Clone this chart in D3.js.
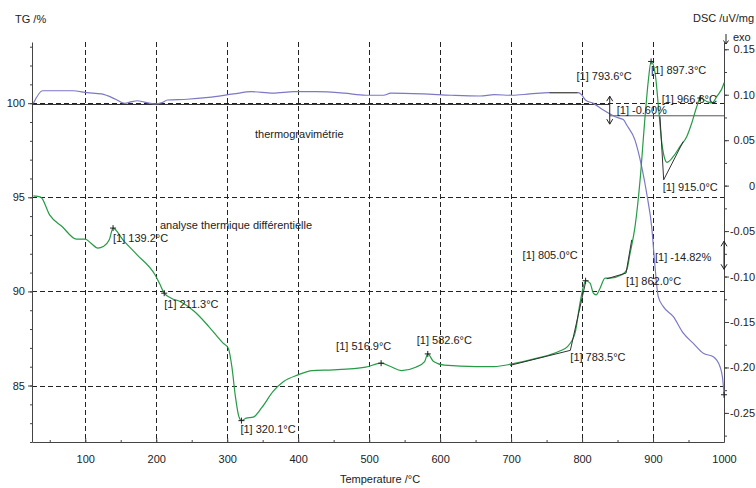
<!DOCTYPE html>
<html>
<head>
<meta charset="utf-8">
<script src="https://cdn.jsdelivr.net/npm/d3@7"></script>
<style>
  body { margin: 0; background: #fff; }
  svg { display: block; }
  text { font-family: "Liberation Sans", Arial, sans-serif; font-size: 11px; fill: #222; }
</style>
</head>
<body>
<svg id="chart" width="756" height="488"></svg>
<script>
// Thermogravimetry (TG, % mass) sampled along temperature (°C)
const tgTemp = [27, 39.8, 82.6, 102.6, 122.8, 142.9, 155.5, 165.6, 173.1, 183.2, 198.3, 208.3, 215.9,
  243.5, 273.8, 309, 334.1, 364.4, 394.6, 424.7, 465, 495.2, 520.4, 530.4, 575.8, 615.9, 656.2, 676.4,
  701.4, 726.7, 754.3, 794.6, 799.5, 804.7, 815.9, 830, 839.4, 848.8, 858.1, 862.9, 874.6, 884, 891.9,
  898.1, 902.8, 907.4, 914.5, 928.6, 942.7, 956.8, 970.9, 985, 994.4, 998, 1000];
const tgMass = [99.99, 100.66, 100.66, 100.56, 100.49, 100.21, 99.99, 100.08, 100.13, 100.06, 99.96, 100.03, 100.17,
  100.21, 100.31, 100.49, 100.61, 100.53, 100.61, 100.61, 100.53, 100.42, 100.42, 100.53, 100.49, 100.42, 100.38, 100.45,
  100.42, 100.49, 100.56, 100.56, 100.44, 100.17, 99.99, 99.64, 99.43, 99.25, 99.13, 98.84, 98.04, 96.63, 95.03,
  93.44, 91.31, 89.72, 89.19, 88.66, 87.78, 87.24, 86.71, 86.53, 86.00, 85.40, 84.57];

// Differential thermal analysis (DSC, uV/mg)
const dscTemp = [27, 37.3, 49.8, 67.4, 87.6, 100.2, 107.7, 117.9, 125.3, 133.9, 139.2, 153.1, 173.1, 198.3,
  204.4, 211.3, 221.2, 233.7, 253.9, 274.1, 294.2, 301.6, 306.6, 311.6, 316.5, 320.1, 326.7, 336.7, 349.2,
  364.4, 379.5, 399.7, 419.7, 449.9, 495.2, 516.9, 530.4, 545.5, 565.6, 578.2, 582.6, 590.8, 605.9, 651.1,
  676.4, 701.4, 736.7, 767, 779.5, 790.1, 797.1, 801.8, 805.0, 811.3, 815.9, 819.7, 825.4, 832.4, 839.5,
  856, 863, 867.7, 874.7, 881.8, 888.8, 893.5, 897.3, 902.9, 907.6, 912.4, 917, 919.4, 928.7, 938.1, 947.6,
  954.6, 961.7, 966.6, 975.8, 982.8, 989.9, 999.2, 1000];
const dscSignal = [-0.0112, -0.0126, -0.0321, -0.0450, -0.0588, -0.0588, -0.0632, -0.0687, -0.0670, -0.0596, -0.0467, -0.0596, -0.0761, -0.0981,
  -0.1072, -0.1183, -0.1238, -0.1275, -0.1385, -0.1550, -0.1733, -0.1788, -0.1990, -0.2321, -0.2541, -0.2585, -0.2558, -0.2547, -0.2437,
  -0.2266, -0.2155, -0.2082, -0.2034, -0.2027, -0.1997, -0.1953, -0.1990, -0.2034, -0.1997, -0.1935, -0.1851, -0.1935, -0.1975, -0.1990,
  -0.1990, -0.1961, -0.1898, -0.1825, -0.1770, -0.1623, -0.1293, -0.1110, -0.1046, -0.1073, -0.1183, -0.1201, -0.1128, -0.1017, -0.1017,
  -0.0981, -0.0926, -0.0742, -0.0449, 0.0064, 0.0761, 0.1165, 0.1366, 0.1239, 0.0871, 0.0468, 0.0285, 0.0255, 0.0321, 0.0431, 0.0541,
  0.0689, 0.0871, 0.0964, 0.0926, 0.0909, 0.0981, 0.1110, 0.1132];

// Axis ticks
const tempTicks = [100, 200, 300, 400, 500, 600, 700, 800, 900, 1000];
const tgTicks = [85, 90, 95, 100];
const dscTicks = [-0.25, -0.20, -0.15, -0.10, -0.05, 0, 0.05, 0.10, 0.15];
const dscTickLabels = ["-0.25", "-0.20", "-0.15", "-0.10", "-0.05", "0", "0.05", "0.10", "0.15"];

// DSC peak temperatures and their signal
const peakTemps = [139.2, 211.3, 320.1, 516.9, 582.6, 805.0, 897.3, 966.6];
const peakSignals = [-0.0467, -0.1183, -0.2585, -0.1953, -0.1851, -0.1046, 0.1366, 0.0964];

// DSC onsets: [baseline start T, baseline start signal], onset signal, [tangent end T, tangent end signal]
const onsetTemps = [783.5, 862.0, 915.0];
const onsetSignals = [-0.1812, -0.0962, 0.0064];
const onsetFrom = [[698.5, -0.1977], [834.7, -0.1025], [909.8, 0.0761]];
const onsetTo = [[804.7, -0.1073], [870.0, -0.0596], [942.6, 0.0486]];

// TG onset and mass steps
const tgOnsetTemp = 793.6;
const tgOnsetMass = 100.56;
const tgTangentStart = 754.3;
const stepLevels = [99.93, 99.33, 84.51];   // level before, between and after the two steps
const stepChanges = [-0.60, -14.82];
const stepTemps = [839, 1000];

const svg = d3.select("#chart");
const x = d3.scaleLinear().domain([25, 1000]).range([32, 724]);
const yTG = d3.scaleLinear().domain([82, 103.25]).range([442, 42]);
const yDSC = d3.scaleLinear().domain([-0.282, 0.158]).range([442, 42]);

const ink = "#222";
const axisColor = "#444";

// Dashed grid
const grid = svg.append("g").attr("stroke", ink).attr("stroke-width", 1).attr("stroke-dasharray", "5,3");
grid.selectAll("line.v").data(tempTicks.filter(t => t < 1000)).join("line")
  .attr("x1", d => Math.round(x(d)) + 0.5).attr("x2", d => Math.round(x(d)) + 0.5)
  .attr("y1", 42).attr("y2", 442);
grid.selectAll("line.h").data(tgTicks).join("line")
  .attr("x1", 32).attr("x2", 724)
  .attr("y1", d => Math.round(yTG(d)) + 0.5).attr("y2", d => Math.round(yTG(d)) + 0.5);

// Axes
function styleAxis(g) {
  g.select(".domain").attr("stroke", axisColor);
  g.selectAll(".tick line").attr("stroke", axisColor);
  g.selectAll(".tick text").attr("fill", ink).style("font-size", "11px")
    .style("font-family", '"Liberation Sans", Arial, sans-serif');
}

svg.append("g").attr("transform", "translate(32,0)")
  .call(d3.axisLeft(yTG).tickValues(d3.range(82, 104, 1)).tickSize(2).tickFormat(""))
  .call(g => g.select(".domain").remove())
  .call(styleAxis);
svg.append("g").attr("transform", "translate(32,0)")
  .call(d3.axisLeft(yTG).tickValues(tgTicks).tickSizeInner(4).tickSizeOuter(0).tickPadding(3).tickFormat(d3.format("d")))
  .call(styleAxis);

svg.append("g").attr("transform", "translate(724,0)")
  .call(d3.axisRight(yDSC).tickValues(d3.range(-0.275, 0.16, 0.025)).tickSize(3).tickFormat(""))
  .call(g => g.select(".domain").remove())
  .call(styleAxis);
const rightAxis = svg.append("g").attr("transform", "translate(724,0)")
  .call(d3.axisRight(yDSC).tickValues(dscTicks).tickSizeInner(5).tickSizeOuter(0)
    .tickFormat((d, i) => dscTickLabels[i]))
  .call(styleAxis);
rightAxis.selectAll(".tick text").attr("text-anchor", "end").attr("x", 31);

svg.append("g").attr("transform", "translate(0,442)")
  .call(d3.axisBottom(x).tickValues(d3.range(50, 1000, 50)).tickSize(-2).tickFormat(""))
  .call(g => g.select(".domain").remove())
  .call(styleAxis);
svg.append("g").attr("transform", "translate(0,442)")
  .call(d3.axisBottom(x).tickValues(tempTicks).tickSizeInner(-4).tickSizeOuter(0).tickPadding(13)
    .tickFormat(d3.format("d")))
  .call(styleAxis);

// Axis titles
svg.append("text").attr("x", 15).attr("y", 23).text("TG /%");
svg.append("text").attr("x", 693).attr("y", 22).text("DSC /uV/mg");
svg.append("text").attr("x", 380).attr("y", 483).attr("text-anchor", "middle").text("Temperature /°C");

// exo direction marker
svg.append("path").attr("d", "M726,34 V44 M723.5,40.5 L726,44 L728.5,40.5")
  .attr("fill", "none").attr("stroke", ink).attr("stroke-width", 1);
svg.append("text").attr("x", 733).attr("y", 41).text("exo");

// Curve names
svg.append("text").attr("x", 255).attr("y", 138).text("thermogravimétrie");
svg.append("text").attr("x", 160).attr("y", 229).text("analyse thermique différentielle");

// TG step levels
const stepG = svg.append("g").attr("stroke", "#333").attr("stroke-width", 1);
stepG.append("line").attr("x1", x(25)).attr("x2", x(stepTemps[0]))
  .attr("y1", yTG(stepLevels[0])).attr("y2", yTG(stepLevels[0]));
stepG.append("line").attr("x1", x(stepTemps[0])).attr("x2", x(1000))
  .attr("y1", yTG(stepLevels[1])).attr("y2", yTG(stepLevels[1])).attr("stroke", "#555");

// Curves
const tgData = tgTemp.map((t, i) => [t, tgMass[i]]);
const dscData = dscTemp.map((t, i) => [t, dscSignal[i]]);

svg.append("path").datum(tgData)
  .attr("fill", "none").attr("stroke", "#7b78c6").attr("stroke-width", 1.2)
  .attr("d", d3.line().x(d => x(d[0])).y(d => yTG(d[1])).curve(d3.curveMonotoneX));

svg.append("path").datum(dscData)
  .attr("fill", "none").attr("stroke", "#259b45").attr("stroke-width", 1.2)
  .attr("d", d3.line().x(d => x(d[0])).y(d => yDSC(d[1])).curve(d3.curveMonotoneX));

// TG onset tangent
svg.append("line").attr("x1", x(tgTangentStart)).attr("x2", x(tgOnsetTemp))
  .attr("y1", yTG(tgOnsetMass)).attr("y2", yTG(tgOnsetMass))
  .attr("stroke", "#555").attr("stroke-width", 1.3);

// DSC onset constructions
onsetTemps.forEach((t, i) => {
  const pts = [onsetFrom[i], [t, onsetSignals[i]], onsetTo[i]];
  svg.append("path")
    .attr("d", d3.line().x(d => x(d[0])).y(d => yDSC(d[1]))(pts))
    .attr("fill", "none").attr("stroke", "#333").attr("stroke-width", 1);
});

// Peak markers
svg.append("g").selectAll("path").data(peakTemps).join("path")
  .attr("d", (t, i) => {
    const px = x(t), py = yDSC(peakSignals[i]);
    return `M${px - 3},${py} H${px + 3} M${px},${py - 3} V${py + 3}`;
  })
  .attr("stroke", ink).attr("stroke-width", 1);

// End-of-run marker on TG
{
  const px = x(1000), py = yTG(stepLevels[2]);
  svg.append("path").attr("d", `M${px - 3},${py} H${px + 3} M${px},${py - 3} V${py + 3}`)
    .attr("stroke", ink).attr("stroke-width", 1);
}

// Mass-change arrows
stepChanges.forEach((c, i) => {
  const px = x(stepTemps[i]);
  const cy = (yTG(stepLevels[i]) + yTG(stepLevels[i + 1])) / 2;
  const top = cy - 14, bot = cy + 14;
  svg.append("path")
    .attr("d", `M${px},${top} V${bot} M${px - 3},${top + 5} L${px},${top} L${px + 3},${top + 5} M${px - 3},${bot - 5} L${px},${bot} L${px + 3},${bot - 5}`)
    .attr("fill", "none").attr("stroke", ink).attr("stroke-width", 1);
});

// Annotation texts
const fmtT = t => `[1] ${t.toFixed(1)}°C`;
const peakOffsets = [[0, 14], [0, 15], [-1, 12.5], [-45, -13], [-11, -10], [-63, -22], [0, 12.5], [-38.6, 5]];
peakTemps.forEach((t, i) => {
  svg.append("text")
    .attr("x", x(t) + peakOffsets[i][0]).attr("y", yDSC(peakSignals[i]) + peakOffsets[i][1])
    .text(fmtT(t));
});
const onsetOffsets = [[0, 11], [0, 12], [-1, 11]];
onsetTemps.forEach((t, i) => {
  svg.append("text")
    .attr("x", x(t) + onsetOffsets[i][0]).attr("y", yDSC(onsetSignals[i]) + onsetOffsets[i][1])
    .text(fmtT(t));
});
svg.append("text").attr("x", x(tgOnsetTemp) - 1).attr("y", yTG(tgOnsetMass) - 12.6).text(fmtT(tgOnsetTemp));

const stepOffsets = [[7, 4], [-69, 6]];
stepChanges.forEach((c, i) => {
  const cy = (yTG(stepLevels[i]) + yTG(stepLevels[i + 1])) / 2;
  svg.append("text").attr("x", x(stepTemps[i]) + stepOffsets[i][0]).attr("y", cy + stepOffsets[i][1])
    .text(`[1] ${c.toFixed(2)}%`);
});
</script>
</body>
</html>
